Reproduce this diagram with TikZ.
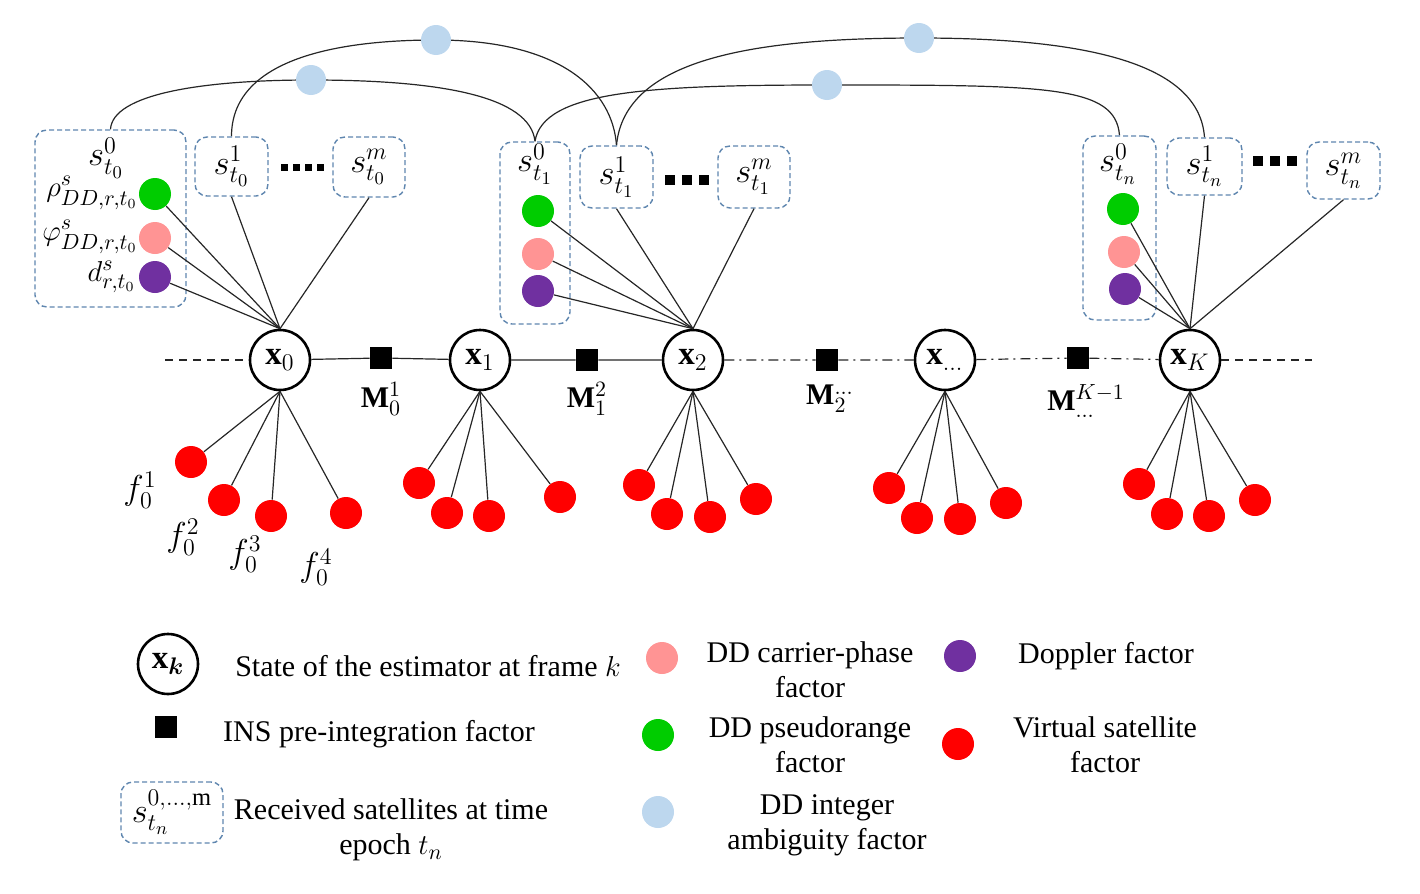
\documentclass[tikz,border=0pt]{standalone}
\usepackage{fontspec}
\setmainfont{Liberation Serif}
\usepackage{amsmath}
\usepackage{bm}
\usetikzlibrary{backgrounds}
\definecolor{gc}{HTML}{00CC00}
\definecolor{pc}{HTML}{FF9494}
\definecolor{dc}{HTML}{7030A0}
\definecolor{rc}{HTML}{FF0000}
\definecolor{ambc}{HTML}{BDD7EE}
\definecolor{boxc}{HTML}{5F86AF}
\begin{document}
\begin{tikzpicture}[x=0.5pt,y=-0.5pt,
  state/.style={circle,draw,line width=1.3pt,minimum size=30pt,inner sep=0pt,font=\fontsize{16.5}{18}\selectfont},
  fac/.style={circle,fill=#1,minimum size=16pt,inner sep=0pt},
  amb/.style={circle,fill=ambc,minimum size=15pt,inner sep=0pt},
  ins/.style={fill=black,minimum size=11pt,inner sep=0pt},
  satbox/.style={draw=boxc,dash pattern=on 2.5pt off 1.5pt,rounded corners=6pt,line width=0.7pt,inner sep=0pt},
  lnk/.style={line width=0.6pt,black!85},
  mlab/.style={font=\fontsize{17.5}{19}\selectfont,inner sep=0pt},
  slab/.style={font=\fontsize{15}{17}\selectfont,inner sep=0pt},
  flab/.style={font=\fontsize{15}{17}\selectfont,inner sep=0pt},
  vlab/.style={font=\fontsize{16.5}{18}\selectfont,inner sep=0pt},
  lgd/.style={font=\fontsize{15}{17.5}\selectfont,align=center,inner sep=0pt}
]
\useasboundingbox (0,0) rectangle (1420,894);

% ---------- state nodes ----------
\node[state] (x0) at (280,360) {$\mathbf{x}_0$};
\node[state] (x1) at (480,360) {$\mathbf{x}_1$};
\node[state] (x2) at (693,360) {$\mathbf{x}_2$};
\node[state] (xd) at (945,360) {$\mathbf{x}_{\dots}$};
\node[state] (xK) at (1190,360) {$\mathbf{x}_K$};

% ---------- INS factors ----------
\node[ins] (m1) at (381,358) {};
\node[ins] (m2) at (587,360) {};
\node[ins] (m3) at (827,360) {};
\node[ins] (m4) at (1078,358) {};
\node[flab] at (381,399) {$\mathbf{M}_0^1$};
\node[flab] at (587,399) {$\mathbf{M}_1^2$};
\node[flab] at (830,399) {$\mathbf{M}_2^{\dots}$};
\node[flab] at (1086,401) {$\mathbf{M}_{\dots}^{K-1}$};

\coordinate (lend) at (165,360);
\coordinate (rend) at (1312,360);
\draw[lnk,dash pattern=on 4pt off 3pt] (lend) -- (x0);
\draw[lnk] (x0) -- (m1) -- (x1) -- (m2) -- (x2);
\draw[lnk,dash pattern=on 5pt off 2.5pt on 1pt off 2.5pt] (x2) -- (m3) -- (xd) -- (m4) -- (xK);
\draw[lnk,dash pattern=on 4pt off 3pt] (xK) -- (rend);

% ---------- satellite boxes at t0 ----------
\node[satbox,minimum width=75.5pt,minimum height=88.5pt] (b00) at (110.5,218.5) {};
\node[mlab] at (106,158) {$s_{t_0}^0$};
\node[slab,anchor=east] at (138,193) {$\rho^s_{DD,r,t_0}$};
\node[slab,anchor=east] at (138,237) {$\varphi^s_{DD,r,t_0}$};
\node[slab,anchor=east] at (136,277) {$d^s_{r,t_0}$};
\node[fac=gc] (g0) at (155,194) {};
\node[fac=pc] (p0) at (155,238) {};
\node[fac=dc] (d0) at (155,277) {};
\node[satbox,mlab,minimum width=36.5pt,minimum height=29.5pt] (b01) at (231.5,166.5) {$s_{t_0}^1$};
\node[satbox,mlab,minimum width=36pt,minimum height=30pt] (b0m) at (369,167) {$s_{t_0}^m$};
\foreach \xx in {284,296,308,320} \fill (\xx-3.5,163.5) rectangle (\xx+3.5,170.5);

% ---------- satellite boxes at t1 ----------
\node[satbox,minimum width=35pt,minimum height=91pt] (b10) at (535,233) {};
\node[mlab] at (535,164) {$s_{t_1}^0$};
\node[fac=gc] (g1) at (538,211) {};
\node[fac=pc] (p1) at (538,254) {};
\node[fac=dc] (d1) at (538,291) {};
\node[satbox,mlab,minimum width=36.5pt,minimum height=31pt] (b11) at (616.5,177) {$s_{t_1}^1$};
\node[satbox,mlab,minimum width=36pt,minimum height=31pt] (b1m) at (754,177) {$s_{t_1}^m$};
\foreach \xx in {670,687,704} \fill (\xx-5,175) rectangle (\xx+5,185);

% ---------- satellite boxes at tn ----------
\node[satbox,minimum width=36.5pt,minimum height=92pt] (bn0) at (1119.5,228) {};
\node[mlab] at (1118,164) {$s_{t_n}^0$};
\node[fac=gc] (gn) at (1123,209) {};
\node[fac=pc] (pn) at (1124,252) {};
\node[fac=dc] (dn) at (1125,289) {};
\node[satbox,mlab,minimum width=37.5pt,minimum height=28.5pt] (bn1) at (1204.5,166.5) {$s_{t_n}^1$};
\node[satbox,mlab,minimum width=36.5pt,minimum height=28.5pt] (bnm) at (1343.5,170.5) {$s_{t_n}^m$};
\foreach \xx in {1258,1275,1292} \fill (\xx-5,156) rectangle (\xx+5,166);

% ---------- links to the state nodes (above) ----------
\foreach \n in {g0,p0,d0,b01.south,b0m.south} \draw[lnk] (\n) -- (x0.north);
\foreach \n in {g1,p1,d1,b11.south,b1m.south} \draw[lnk] (\n) -- (x2.north);
\foreach \n in {gn,pn,dn,bn1.south,bnm.south} \draw[lnk] (\n) -- (xK.north);

% ---------- ambiguity factors ----------
\node[amb] (a1) at (311,80) {};
\node[amb] (a2) at (436,40) {};
\node[amb] (a3) at (827,85) {};
\node[amb] (a4) at (919,38) {};
\begin{scope}[on background layer]
\draw[lnk] (b00.north) .. controls +(2,-35) and +(-110,0) .. (a1.center)
                       .. controls +(130,0) and +(-5,-45) .. (b10.north);
\draw[lnk] (b01.north) .. controls +(0,-75) and +(-105,0) .. (a2.center)
                       .. controls +(125,0) and +(-4,-55) .. (b11.north);
\draw[lnk] (b10.north) .. controls +(8,-50) and +(-180,0) .. (a3.center)
                       .. controls +(220,0) and +(-4,-50) .. (bn0.north);
\draw[lnk] (b11.north) .. controls +(8,-85) and +(-170,0) .. (a4.center)
                       .. controls +(180,0) and +(-5,-70) .. (bn1.north);
\end{scope}

% ---------- virtual satellite factors ----------
\foreach \nm/\px/\py in {v01/191/462,v02/224/500,v03/271/516,v04/346/513}
  {\node[fac=rc] (\nm) at (\px,\py) {}; \draw[lnk] (x0.south) -- (\nm);}
\foreach \nm/\px/\py in {v11/419/483,v12/447/513,v13/489/516,v14/560/497}
  {\node[fac=rc] (\nm) at (\px,\py) {}; \draw[lnk] (x1.south) -- (\nm);}
\foreach \nm/\px/\py in {v21/639/485,v22/667/514,v23/710/517,v24/756/499}
  {\node[fac=rc] (\nm) at (\px,\py) {}; \draw[lnk] (x2.south) -- (\nm);}
\foreach \nm/\px/\py in {v31/889/488,v32/917/518,v33/960/519,v34/1006/503}
  {\node[fac=rc] (\nm) at (\px,\py) {}; \draw[lnk] (xd.south) -- (\nm);}
\foreach \nm/\px/\py in {v41/1139/484,v42/1167/514,v43/1209/516,v44/1255/500}
  {\node[fac=rc] (\nm) at (\px,\py) {}; \draw[lnk] (xK.south) -- (\nm);}
\node[vlab] at (140,490) {$f_0^1$};
\node[vlab] at (183,537) {$f_0^2$};
\node[vlab] at (245,554) {$f_0^3$};
\node[vlab] at (316,567) {$f_0^4$};

% ---------- legend ----------
\node[state] (lx) at (168,664) {$\mathbf{x}_{\bm{k}}$};
\node[lgd] at (428,666) {State of the estimator at frame $k$};
\node[ins] (lm) at (166,727) {};
\node[lgd] at (379,734) {INS pre-integration factor};
\node[satbox,mlab,minimum width=51pt,minimum height=30.5pt] (lb) at (172,812.5) {$s_{t_n}^{0,\dots,\mathrm{m}}$};
\node[lgd] at (391,830) {Received satellites at time\\epoch $t_n$};
\node[fac=pc] (lp) at (662,658) {};
\node[lgd] at (810,670) {DD carrier-phase\\factor};
\node[fac=gc] (lg) at (658,735) {};
\node[lgd] at (810,745) {DD pseudorange\\factor};
\node[fac=ambc] (la) at (658,812) {};
\node[lgd] at (827,825) {DD integer\\ambiguity factor};
\node[fac=dc] (ld) at (960,656) {};
\node[lgd] at (1106,656) {Doppler factor};
\node[fac=rc] (lr) at (958,744) {};
\node[lgd] at (1105,745) {Virtual satellite\\factor};
\end{tikzpicture}
\end{document}
